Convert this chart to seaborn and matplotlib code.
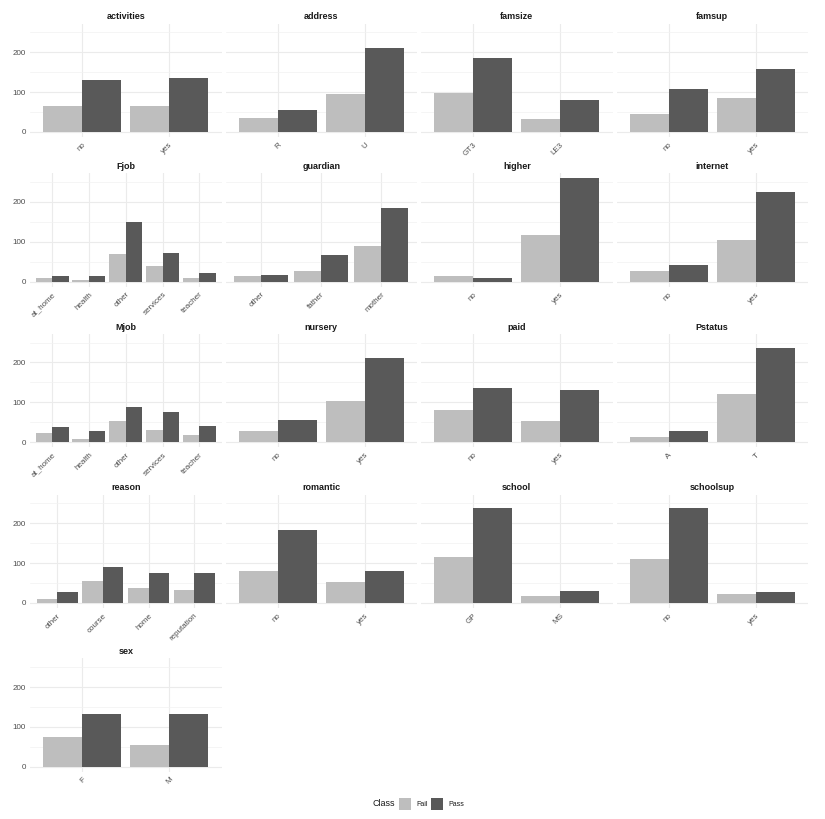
import numpy as np
import pandas as pd
import matplotlib.pyplot as plt
from matplotlib.patches import Rectangle
import seaborn as sns

# Dane: liczba uczniow (Fail / Pass) dla kazdej zmiennej
classes = ['Fail', 'Pass']
colors = ['#BEBEBE', '#595959']

lv_activities = ['no', 'yes']
fail_activities = [65, 65]
pass_activities = [130, 135]

lv_address = ['R', 'U']
fail_address = [34, 96]
pass_address = [54, 211]

lv_famsize = ['GT3', 'LE3']
fail_famsize = [97, 33]
pass_famsize = [185, 80]

lv_famsup = ['no', 'yes']
fail_famsup = [45, 85]
pass_famsup = [108, 157]

lv_Fjob = ['at_home', 'health', 'other', 'services', 'teacher']
fail_Fjob = [8, 5, 68, 40, 8]
pass_Fjob = [13, 13, 149, 71, 22]

lv_guardian = ['other', 'father', 'mother']
fail_guardian = [15, 26, 89]
pass_guardian = [16, 66, 184]

lv_higher = ['no', 'yes']
fail_higher = [13, 118]
pass_higher = [8, 259]

lv_internet = ['no', 'yes']
fail_internet = [26, 104]
pass_internet = [41, 224]

lv_Mjob = ['at_home', 'health', 'other', 'services', 'teacher']
fail_Mjob = [22, 7, 52, 30, 19]
pass_Mjob = [37, 27, 88, 75, 40]

lv_nursery = ['no', 'yes']
fail_nursery = [27, 104]
pass_nursery = [55, 212]

lv_paid = ['no', 'yes']
fail_paid = [80, 52]
pass_paid = [136, 131]

lv_Pstatus = ['A', 'T']
fail_Pstatus = [12, 120]
pass_Pstatus = [29, 237]

lv_reason = ['other', 'course', 'home', 'reputation']
fail_reason = [10, 56, 36, 31]
pass_reason = [28, 89, 74, 76]

lv_romantic = ['no', 'yes']
fail_romantic = [79, 53]
pass_romantic = [184, 81]

lv_school = ['GP', 'MS']
fail_school = [114, 18]
pass_school = [237, 30]

lv_schoolsup = ['no', 'yes']
fail_schoolsup = [109, 23]
pass_schoolsup = [237, 28]

lv_sex = ['F', 'M']
fail_sex = [75, 55]
pass_sex = [133, 132]

panels = [
    ('activities', lv_activities, fail_activities, pass_activities),
    ('address', lv_address, fail_address, pass_address),
    ('famsize', lv_famsize, fail_famsize, pass_famsize),
    ('famsup', lv_famsup, fail_famsup, pass_famsup),
    ('Fjob', lv_Fjob, fail_Fjob, pass_Fjob),
    ('guardian', lv_guardian, fail_guardian, pass_guardian),
    ('higher', lv_higher, fail_higher, pass_higher),
    ('internet', lv_internet, fail_internet, pass_internet),
    ('Mjob', lv_Mjob, fail_Mjob, pass_Mjob),
    ('nursery', lv_nursery, fail_nursery, pass_nursery),
    ('paid', lv_paid, fail_paid, pass_paid),
    ('Pstatus', lv_Pstatus, fail_Pstatus, pass_Pstatus),
    ('reason', lv_reason, fail_reason, pass_reason),
    ('romantic', lv_romantic, fail_romantic, pass_romantic),
    ('school', lv_school, fail_school, pass_school),
    ('schoolsup', lv_schoolsup, fail_schoolsup, pass_schoolsup),
    ('sex', lv_sex, fail_sex, pass_sex),
]

# tabela dluga
rows = []
for name, lv, f, p in panels:
    for i, level in enumerate(lv):
        rows.append((name, level, 'Fail', f[i]))
        rows.append((name, level, 'Pass', p[i]))
df = pd.DataFrame(rows, columns=['variable', 'level', 'Class', 'count'])

plt.rcParams['font.family'] = ['Liberation Sans', 'DejaVu Sans']

W, H = 825, 819
fig = plt.figure(figsize=(W / 100, H / 100), dpi=100)

col_left = [30, 225.5, 421, 616.5]
row_top = [23.6, 173.2, 333.8, 494.5, 658.4]
pw, ph = 191.5, 113.5

ymax = max(max(p) for _, _, _, p in panels)
ylim = (-0.05 * ymax, 1.05 * ymax)

for k, (name, lv, f, p) in enumerate(panels):
    r, c = divmod(k, 4)
    left = col_left[c]
    top = row_top[r]
    ax = fig.add_axes([left / W, 1 - (top + ph) / H, pw / W, ph / H])
    sub = df[df['variable'] == name]
    sns.barplot(data=sub, x='level', y='count', hue='Class', order=lv,
                hue_order=classes, palette=colors, width=0.9, saturation=1,
                linewidth=0, legend=False, ax=ax)
    ax.set_xlim(-0.6, len(lv) - 0.4)
    ax.set_ylim(*ylim)
    ax.set_yticks([0, 100, 200])
    ax.set_yticks([50, 150, 250], minor=True)
    ax.set_axisbelow(True)
    ax.grid(True, which='major', axis='both', color='#EBEBEB', linewidth=0.8)
    ax.grid(True, which='minor', axis='y', color='#F2F2F2', linewidth=0.5)
    for s in ax.spines.values():
        s.set_visible(False)
    ax.set_xlabel('')
    ax.set_ylabel('')
    ax.tick_params(axis='both', which='both', length=0)
    ax.tick_params(axis='y', labelsize=5.8, labelcolor='#4D4D4D', pad=3)
    ax.tick_params(axis='x', labelsize=5.8, labelcolor='#4D4D4D', pad=3)
    plt.setp(ax.get_xticklabels(), rotation=45, ha='right', rotation_mode='anchor')
    if c != 0:
        ax.set_yticklabels([])
    ax.set_title(name, fontsize=6.5, fontweight='bold', color='#1A1A1A', pad=3)

# legenda
ly = 804
fig.text(395 / W, 1 - ly / H, 'Class', fontsize=6.5, va='center', ha='right', color='#1A1A1A')
for x0, cl, col in [(399, 'Fail', colors[0]), (431, 'Pass', colors[1])]:
    fig.patches.append(Rectangle((x0 / W, 1 - (ly + 6) / H), 12 / W, 12 / H,
                                 transform=fig.transFigure, facecolor=col, edgecolor='none'))
    fig.text((x0 + 17) / W, 1 - ly / H, cl, fontsize=5, va='center', ha='left', color='#1A1A1A')

plt.savefig('out.png', dpi=100)
